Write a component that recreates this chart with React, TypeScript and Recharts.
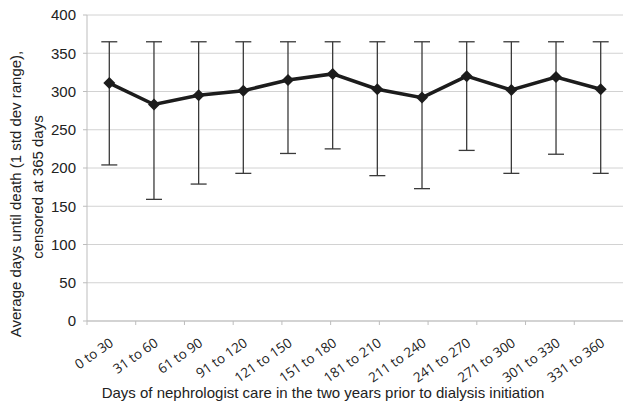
import { LineChart, Line, XAxis, YAxis, CartesianGrid, ErrorBar } from "recharts";

const categories = [
  "0 to 30", "31 to 60", "61 to 90", "91 to 120", "121 to 150", "151 to 180",
  "181 to 210", "211 to 240", "241 to 270", "271 to 300", "301 to 330", "331 to 360",
];
const meanDays = [311, 283, 295, 301, 315, 323, 303, 292, 320, 302, 319, 303];
const lowDays = [204, 159, 179, 193, 219, 225, 190, 173, 223, 193, 218, 193];
const highDays = [365, 365, 365, 365, 365, 365, 365, 365, 365, 365, 365, 365];
const yTicks = [0, 50, 100, 150, 200, 250, 300, 350, 400];

const data = categories.map((c, i) => ({
  range: c,
  mean: meanDays[i],
  err: [meanDays[i] - lowDays[i], highDays[i] - meanDays[i]],
}));

const boundaryTicks = [...categories.map((_, i) => i), categories.length];

const FONT = "'Liberation Sans', Arial, sans-serif";
const AXIS_GRAY = "#bdbdbd";

const Diamond = ({ cx, cy }: any) => {
  if (cx == null || cy == null) return null;
  const r = 6;
  return <polygon points={`${cx},${cy - r} ${cx + r},${cy} ${cx},${cy + r} ${cx - r},${cy}`} fill="#1c1c1c" />;
};

const CatTick = ({ x, y, payload }: any) => {
  const tx = x + 5;
  const ty = y + 16;
  return (
    <text
      x={tx}
      y={ty}
      transform={`rotate(-35 ${tx} ${ty})`}
      textAnchor="end"
      fontFamily="'Open Sans', sans-serif"
      fontSize={13.5}
      fill="#222"
    >
      {payload.value}
    </text>
  );
};

const XTitle = () => (
  <text x={323} y={398} textAnchor="middle" fontFamily={FONT} fontSize={15} fill="#222">
    Days of nephrologist care in the two years prior to dialysis initiation
  </text>
);

const YTitle = () => (
  <text fontFamily={FONT} fontSize={15} fill="#222" textAnchor="middle" transform="rotate(-90 0 0)">
    <tspan x={-194} y={21}>Average days until death (1 std dev range),</tspan>
    <tspan x={-187} y={43}>censored at 365 days</tspan>
  </text>
);

export default function App() {
  return (
    <div style={{ position: "fixed", left: 0, top: 0, background: "#fff" }}>
      <LineChart width={632} height={418} data={data} margin={{ top: 15, right: 9, left: 0, bottom: 0 }}>
        <CartesianGrid xAxisId="b" vertical={false} stroke="#d2d2d2" />
        <XAxis
          xAxisId="a"
          type="number"
          domain={[0, categories.length]}
          ticks={boundaryTicks}
          allowDataOverflow
          height={6}
          tickSize={4}
          stroke={AXIS_GRAY}
          tick={() => <g />}
        />
        <XAxis
          xAxisId="b"
          dataKey="range"
          interval={0}
          height={91}
          padding={{ left: 22.3, right: 22.3 }}
          axisLine={false}
          tickLine={false}
          tickSize={0}
          tick={<CatTick />}
          label={{ content: <XTitle /> }}
        />
        <YAxis
          domain={[0, 400]}
          ticks={yTicks}
          width={87}
          tickSize={4}
          tickMargin={7}
          stroke={AXIS_GRAY}
          tick={{ fill: "#222", fontSize: 15, fontFamily: FONT }}
          label={{ content: <YTitle /> }}
        />
        <Line
          xAxisId="b"
          dataKey="mean"
          stroke="#1c1c1c"
          strokeWidth={3.5}
          dot={<Diamond />}
          activeDot={false}
          isAnimationActive={false}
        >
          <ErrorBar dataKey="err" width={8} stroke="#3a3a3a" strokeWidth={1.3} />
        </Line>
      </LineChart>
    </div>
  );
}
